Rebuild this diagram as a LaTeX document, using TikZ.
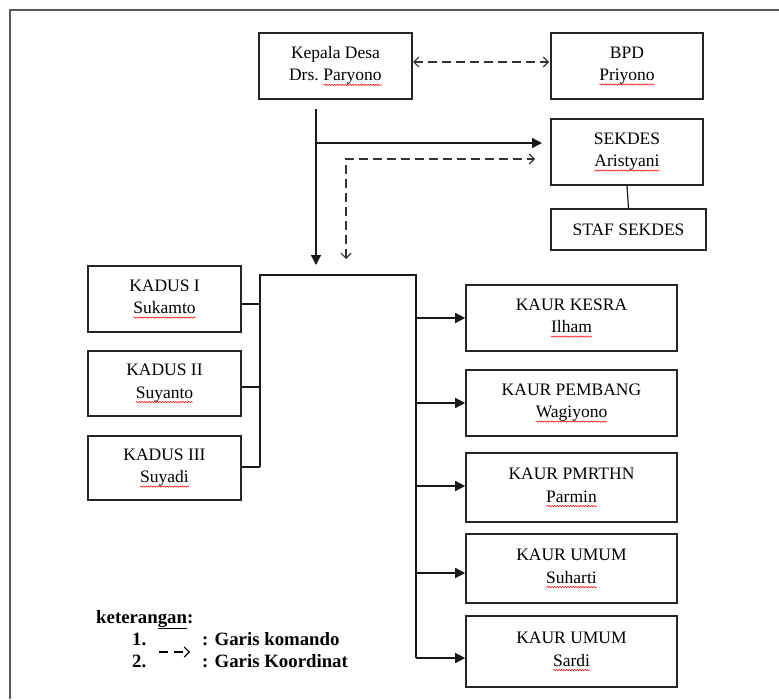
\documentclass[tikz,border=0pt]{standalone}
\usepackage{fontspec}
\setmainfont{Liberation Serif}
\usetikzlibrary{arrows.meta,decorations.pathmorphing}
\newcommand\rw[1]{\tikz[baseline=(w.base),x=1pt,y=1pt]{\node[inner sep=0pt,outer sep=0pt,minimum width=0pt,minimum height=0pt,draw=none,fill=none](w){#1};
  \draw[red, line width=0.5pt, decorate, decoration={snake,amplitude=0.7pt,segment length=2.6pt}] ([yshift=-4pt]w.base west) -- ([yshift=-4pt]w.base east);}}
\tikzset{
  ot/.tip={Straight Barb[length=5pt,width=10pt,line width=1.2pt]},
  orgbox/.style={draw=black!85, line width=1.6pt, align=center, inner sep=0pt,
    font=\fontsize{17.5}{22.5}\selectfont},
  cmd/.style={line width=1.4pt, draw=black!90, -{Triangle[length=10pt,width=10pt]}},
  plain/.style={line width=1.4pt, draw=black!90},
  coord/.style={line width=1.2pt, draw=black!80, dash pattern=on 9pt off 5pt},
  legend/.style={anchor=base west, inner sep=0pt, font=\bfseries\fontsize{18.8}{22}\selectfont}
}
\begin{document}
\begin{tikzpicture}[x=1pt,y=-1pt]
\useasboundingbox (0,0) rectangle (779,699);
% outer frame
\draw[line width=1.5pt, draw=black!65] (10,699) -- (10,10) -- (779,10);

% boxes
\node[orgbox, minimum width=153pt, minimum height=66pt] (kepala) at (335.5,66) {Kepala Desa\\Drs.\ \rw{Paryono}};
\node[orgbox, minimum width=152pt, minimum height=66pt] (bpd) at (627,66) {BPD\\\rw{Priyono}};
\node[orgbox, minimum width=152pt, minimum height=66pt] (sekdes) at (627,152) {SEKDES\\\rw{Aristyani}};
\node[orgbox, minimum width=155pt, minimum height=41pt] (staf) at (628.5,229.5) {STAF SEKDES};

\node[orgbox, minimum width=153pt, minimum height=66pt] (kadusA) at (164.5,299) {KADUS I\\\rw{Sukamto}};
\node[orgbox, minimum width=153pt, minimum height=65pt] (kadusB) at (164.5,383.5) {KADUS II\\\rw{Suyanto}};
\node[orgbox, minimum width=153pt, minimum height=64pt] (kadusC) at (164.5,468) {KADUS III\\\rw{Suyadi}};

\node[orgbox, minimum width=211pt, minimum height=66pt] (kesra) at (571.5,318) {KAUR KESRA\\\rw{Ilham}};
\node[orgbox, minimum width=211pt, minimum height=66pt] (pembang) at (571.5,403) {KAUR PEMBANG\\\rw{Wagiyono}};
\node[orgbox, minimum width=211pt, minimum height=69pt] (pmrthn) at (571.5,487.5) {KAUR PMRTHN\\\rw{Parmin}};
\node[orgbox, minimum width=211pt, minimum height=69pt] (umumA) at (571.5,568.5) {KAUR UMUM\\\rw{Suharti}};
\node[orgbox, minimum width=211pt, minimum height=71pt] (umumB) at (571.5,651.5) {KAUR UMUM\\\rw{Sardi}};

% coordinates
\coordinate (kdown) at (316,109);
\coordinate (kend) at (316,265);
\coordinate (kbr) at (316,143);
\coordinate (kbrend) at (542,143);
\coordinate (dend) at (346,259);
\coordinate (dcorner) at (346,159);
\coordinate (dright) at (535,159);
\coordinate (bpdl) at (413,62);
\coordinate (bpdr) at (549,62);
\coordinate (brL) at (260,467);
\coordinate (brTL) at (260,275);
\coordinate (brTR) at (416,275);
\coordinate (brB) at (416,658);
\coordinate (jA) at (260,304);
\coordinate (jB) at (260,387);
\coordinate (tA) at (416,318);
\coordinate (tB) at (416,403);
\coordinate (tC) at (416,486);
\coordinate (tD) at (416,573);
\coordinate (tE) at (416,658);

% Kepala <-> BPD
\draw[coord, ot-ot] (bpdl) -- (bpdr);
% command lines
\draw[cmd] (kdown) -- (kend);
\draw[cmd] (kbr) -- (kbrend);
% coordination line
\draw[coord, ot-ot] (dend) -- (dcorner) -- (dright);
% sekdes - staf
\draw[plain, line width=1.2pt] (sekdes.south) -- (staf.north);
% bracket
\draw[plain] (brL) -- (brTL) -- (brTR) -- (brB);
\draw[plain, line width=1.2pt] (kadusA.east |- jA) -- (jA);
\draw[plain, line width=1.2pt] (kadusB.east |- jB) -- (jB);
\draw[plain] (kadusC.east |- brL) -- (brL);
% to KAUR
\draw[cmd] (tA) -- (kesra.west |- tA);
\draw[cmd] (tB) -- (pembang.west |- tB);
\draw[cmd] (tC) -- (pmrthn.west |- tC);
\draw[cmd] (tD) -- (umumA.west |- tD);
\draw[cmd] (tE) -- (umumB.west |- tE);

% legend
\node[legend] (ket) at (96,623) {keteran\underline{gan}:};
\node[legend] (n1) at (132,645) {1.};
\node[legend] (n2) at (132,667) {2.};
\node[legend] (g1) at (202,645) {: Garis komando};
\node[legend] (g2) at (202,667) {: Garis Koordinat};
\coordinate (la) at (159,652);
\coordinate (lb) at (190,652);
\draw[line width=1.2pt, dash pattern=on 9pt off 6pt, -ot] (la) -- (lb);
\end{tikzpicture}
\end{document}
